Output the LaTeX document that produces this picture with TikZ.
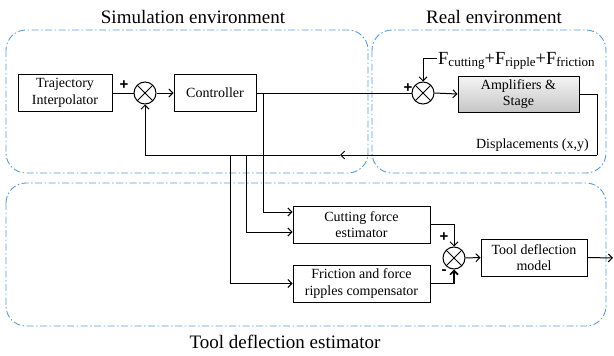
\documentclass[tikz,border=0pt]{standalone}
\usepackage{fontspec}
\setmainfont{Liberation Serif}
\newfontfamily\signfont{Liberation Sans}
\usetikzlibrary{arrows.meta,calc}
\definecolor{envblue}{HTML}{5B9BD5}
\begin{document}
\begin{tikzpicture}[x=1pt,y=-1pt,
  blk/.style={draw=black, line width=1pt, fill=white, minimum width=#1, minimum height=37pt, align=center, inner sep=1pt, font=\fontsize{14}{16.5}\selectfont},
  sumnode/.style={circle, draw, line width=1pt, minimum size=22pt, inner sep=0pt, path picture={\draw[line width=0.9pt] (path picture bounding box.north west) -- (path picture bounding box.south east) (path picture bounding box.north east) -- (path picture bounding box.south west);}},
  env/.style={draw=envblue, line width=0.9pt, dash pattern=on 7pt off 2.5pt on 1.5pt off 2.5pt, rounded corners=20pt},
  title/.style={font=\fontsize{19}{22}\selectfont, inner sep=0pt},
  wire/.style={line width=1pt},
  arr/.style={wire, -{Straight Barb[length=4pt,width=8pt]}},
  sgn/.style={font=\signfont\fontsize{15}{15}\selectfont\bfseries, inner sep=0pt}
]
\useasboundingbox (0,0) rectangle (614,356);

% environments
\draw[env] (6,30) rectangle (368,173);
\draw[env] (372,30) rectangle (606,173);
\draw[env] (6,183) rectangle (606,326);
\node[title] (tsim) at (193,17) {Simulation environment};
\node[title] (treal) at (494,17) {Real environment};
\node[title] (ttool) at (285,342) {Tool deflection estimator};

% blocks
\node[blk=94pt] (traj) at (65,93) {Trajectory\\Interpolator};
\node[sumnode] (s1) at (145,93) {};
\node[blk=82pt] (ctrl) at (215,93) {Controller};
\node[sumnode] (s2) at (423,93) {};
\node[blk=121pt, minimum height=36pt, top color=gray!8, bottom color=gray!45] (amp) at (518.5,94) {Amplifiers \&\\Stage};
\node[blk=137pt] (cut) at (361.5,224.5) {Cutting force\\estimator};
\node[blk=137pt] (fric) at (361.5,283.5) {Friction and force\\ripples compensator};
\node[sumnode] (s3) at (454,258) {};
\node[blk=106pt] (tdm) at (534,257.5) {Tool deflection\\model};

% labels
\node[anchor=base west, inner sep=0pt] (force) at (438,64) {\fontsize{18.5}{20}\selectfont F\raisebox{-2pt}{\fontsize{13}{14}\selectfont cutting}+F\raisebox{-2pt}{\fontsize{13}{14}\selectfont ripple}+F\raisebox{-2pt}{\fontsize{13}{14}\selectfont friction}};
\node[anchor=east, inner sep=0pt, font=\fontsize{14}{16}\selectfont] (disp) at (589,145) {Displacements (x,y)};
\node[sgn] (p1) at (124,85) {+};
\node[sgn] (p2) at (408,88) {+};
\node[sgn] (p3) at (444,237) {+};
\node[sgn] (m3) at (444,272) {-};

% coordinates
\coordinate (fin) at (437,58);
\coordinate (fbR) at (597,155);
\coordinate (fbM) at (340,155);
\coordinate (fbL) at (145,155);
\coordinate (br1) at (263,93);
\coordinate (br2) at (246,155);
\coordinate (br3) at (230,155);
\coordinate (ci1) at (cut.west |- 0,212);
\coordinate (ci2) at (cut.west |- 0,232);
\coordinate (out) at (613,258);

% connectors
\draw[wire] (traj.east) -- (s1.west);
\draw[arr] (s1.east) -- (ctrl.west);
\draw[wire] (ctrl.east) -- (s2.west);
\draw[arr] (s2.east) -- (amp.west);
\draw[arr] (fin) -| (s2.north);
\draw[wire] (amp.east) -| (fbR);
\draw[arr] (fbR) -- (fbM);
\draw[arr] (fbM) -- (fbL) -- (s1.south);
\draw[arr] (br1) |- (ci1);
\draw[arr] (br2) |- (ci2);
\draw[arr] (br3) |- (fric.west);
\draw[arr] (cut.east) -| (s3.north);
\draw[arr, line width=1.6pt] (fric.east) -| (s3.south);
\draw[arr] (s3.east) -- (tdm.west);
\draw[arr] (tdm.east) -- (out);
\end{tikzpicture}
\end{document}
